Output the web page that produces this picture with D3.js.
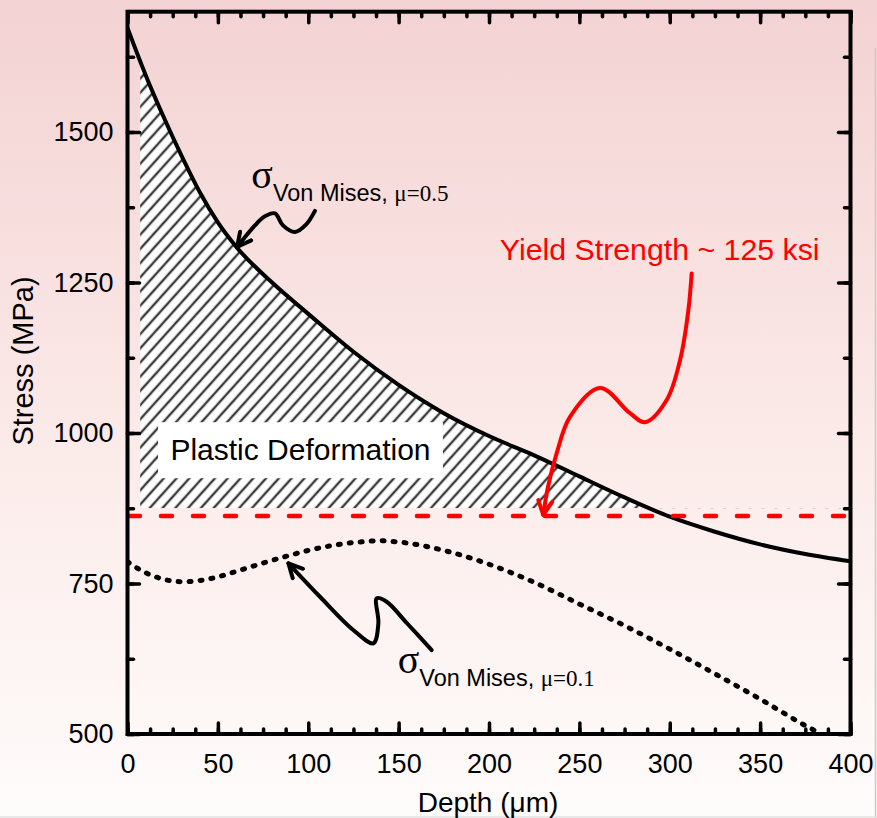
<!DOCTYPE html>
<html><head><meta charset="utf-8">
<script src="https://cdn.jsdelivr.net/npm/d3@7"></script>
<style>html,body{margin:0;padding:0;background:#fff;}svg{display:block;}</style>
</head><body>
<script>
// ---- data ----
const depthTicks = [0,50,100,150,200,250,300,350,400];
const stressTicks = [500,750,1000,1250,1500];
const depthHigh = [0,10,20,30,40,50,60,80,100,125,150,175,200,225,250,275,300,325,350,375,400];
const stressHigh = [1673,1595,1525,1460,1400,1350,1310,1250,1198,1135,1080,1033,995,963,928,893,861,836,815,799,787];
const depthLow = [0,10,20,30,40,50,60,75,90,100,125,140,150,175,200,225,250,275,300,325,350,375,380];
const stressLow = [786,768,757,753,755,761,770,784,797,805,818,821,819,805,782,752,716,680,641,600,558,514,506];
const yieldStress = 862;
const plasticFloor = 875, plasticStart = 7;
// annotation arrows (data units: depth, stress)
const arrowHighD = [103.7, 99, 92.7, 86, 81.6, 76, 70.5, 60.6];
const arrowHighS = [1369, 1347, 1334, 1345, 1365, 1360, 1345, 1309];
const arrowLowD = [168.3, 154.5, 143.4, 137.9, 138.8, 136, 124.9, 106.5, 89];
const arrowLowS = [639.5, 684.4, 719.8, 725.4, 684, 650.7, 672.8, 728, 783.6];
const arrowYieldD = [312.1, 310.3, 305.7, 298.3, 286.3, 278, 261.4, 244.8, 237.5, 232.6, 230];
const arrowYieldS = [1265, 1204, 1121, 1055, 1018, 1033, 1075, 1027, 967, 910, 864];

const W = 877, H = 818;
const svg = d3.select("body").append("svg").attr("width", W).attr("height", H);
const defs = svg.append("defs");
const grad = defs.append("linearGradient").attr("id","bg").attr("x1",0).attr("y1",0).attr("x2",0).attr("y2",1);
[[0,"#f3d2d3"],[0.3,"#f8e0df"],[0.65,"#fcefed"],[1,"#fefcfb"]].forEach(s=>grad.append("stop").attr("offset",s[0]).attr("stop-color",s[1]));
svg.append("rect").attr("width",W).attr("height",H).attr("fill","url(#bg)");
svg.append("line").attr("x1",875.5).attr("x2",875.5).attr("y1",48).attr("y2",H).attr("stroke","#c9cbc0").attr("stroke-width",1.5);
svg.append("line").attr("x1",0).attr("x2",W).attr("y1",817).attr("y2",817).attr("stroke","#e2e2e2").attr("stroke-width",1.5);

const x = d3.scaleLinear().domain([0,400]).range([127.5,850.5]);
const y = d3.scaleLinear().domain([500,1700]).range([734,11.7]);

defs.append("clipPath").attr("id","plot").append("rect")
  .attr("x",x(0)).attr("y",y(1700)).attr("width",x(400)-x(0)).attr("height",y(500)-y(1700));
defs.append("clipPath").attr("id","hatchclip").append("rect")
  .attr("x",x(plasticStart)).attr("y",y(1700)).attr("width",x(400)-x(plasticStart)).attr("height",y(plasticFloor)-y(1700));
const pat = defs.append("pattern").attr("id","hatch").attr("patternUnits","userSpaceOnUse")
  .attr("width",9.5).attr("height",10).attr("patternTransform","rotate(42)");
pat.append("line").attr("x1",4.75).attr("x2",4.75).attr("y1",-1).attr("y2",11).attr("stroke","#3c3c3c").attr("stroke-width",2.4);

const hi = depthHigh.map((d,i)=>[d,stressHigh[i]]);
const lo = depthLow.map((d,i)=>[d,stressLow[i]]);

// hatched plastic region
const area = d3.area().x(d=>x(d[0])).y0(y(plasticFloor)).y1(d=>y(d[1])).curve(d3.curveMonotoneX);
const hg = svg.append("g").attr("clip-path","url(#hatchclip)");
hg.append("path").attr("d",area(hi)).attr("fill","#fff");
hg.append("path").attr("d",area(hi)).attr("fill","url(#hatch)");

// plastic label
const pl = svg.append("g");
pl.append("rect").attr("x",x(16.9)).attr("y",y(1018)).attr("width",x(174.5)-x(16.9)).attr("height",y(925)-y(1018)).attr("fill","#fff");
pl.append("text").attr("x",(x(16.9)+x(174.5))/2).attr("y",y(955)).attr("text-anchor","middle")
  .attr("font-family","Liberation Sans, Arial, sans-serif").attr("font-size",30).attr("fill","#000").text("Plastic Deformation");

const line = d3.line().x(d=>x(d[0])).y(d=>y(d[1])).curve(d3.curveMonotoneX);
const pg = svg.append("g").attr("clip-path","url(#plot)");
pg.append("path").attr("d",line(lo)).attr("fill","none").attr("stroke","#000").attr("stroke-width",5)
  .attr("stroke-dasharray","2 9").attr("stroke-linecap","round");
pg.append("path").attr("d",line(hi)).attr("fill","none").attr("stroke","#000").attr("stroke-width",4);

// yield line
svg.append("line").attr("x1",x(0)+1.5).attr("x2",x(400)).attr("y1",y(yieldStress)).attr("y2",y(yieldStress))
  .attr("stroke","#ff0000").attr("stroke-width",4.5).attr("stroke-dasharray","11 21").attr("stroke-linecap","round");

// arrows
function marker(id,color){
  defs.append("marker").attr("id",id).attr("markerUnits","userSpaceOnUse").attr("viewBox","-16 -10 20 20")
    .attr("markerWidth",20).attr("markerHeight",20).attr("refX",0).attr("refY",0).attr("orient","auto")
    .append("path").attr("d","M-14,-7 L0,0 L-14,7").attr("fill","none").attr("stroke",color).attr("stroke-width",4)
    .attr("stroke-linecap","round").attr("stroke-linejoin","round");
}
marker("ab","#000"); marker("ar","#ff0000");
const aline = d3.line().x(d=>x(d[0])).y(d=>y(d[1])).curve(d3.curveCatmullRom.alpha(0.5));
function arrow(D,S,color,id){
  svg.append("path").attr("d",aline(D.map((d,i)=>[d,S[i]]))).attr("fill","none").attr("stroke",color)
    .attr("stroke-width",4).attr("stroke-linecap","round").attr("marker-end",`url(#${id})`);
}
arrow(arrowHighD,arrowHighS,"#000","ab");
arrow(arrowLowD,arrowLowS,"#000","ab");
arrow(arrowYieldD,arrowYieldS,"#ff0000","ar");

// sigma labels
function sigmaLabel(d,s,mu){
  const t = svg.append("text").attr("x",x(d)).attr("y",y(s)).attr("fill","#000");
  t.append("tspan").attr("font-family","Liberation Serif, Times New Roman, serif").attr("font-size",40).text("σ");
  t.append("tspan").attr("font-family","Liberation Sans, Arial, sans-serif").attr("font-size",23.5).attr("dy",13).text("Von Mises, ");
  t.append("tspan").attr("font-family","Liberation Serif, Times New Roman, serif").attr("font-size",23).text("μ=" + mu);
}
sigmaLabel(68.5,1407,"0.5");
sigmaLabel(149.5,601,"0.1");

svg.append("text").attr("x",x(206)).attr("y",y(1287)).attr("fill","#ff0000")
  .attr("font-family","Liberation Sans, Arial, sans-serif").attr("font-size",30.3).text("Yield Strength ~ 125 ksi");

// axes
const font = "Liberation Sans, Arial, sans-serif";
const minorX = d3.range(0,400.01,12.5), minorY = d3.range(500,1700.01,125);
function styleAxis(g){
  g.select(".domain").remove();
  g.selectAll(".tick line").attr("stroke","#000").attr("stroke-width",3.5).attr("stroke-linecap","round");
  g.selectAll("text").attr("font-family",font).attr("font-size",27).attr("fill","#000");
}
svg.append("g").attr("transform",`translate(0,${y(500)})`).call(d3.axisBottom(x).tickValues(minorX).tickSize(-5).tickFormat("")).call(styleAxis);
svg.append("g").attr("transform",`translate(0,${y(500)})`).call(d3.axisBottom(x).tickValues(depthTicks).tickSize(-11).tickPadding(20).tickFormat(d3.format("d"))).call(styleAxis);
svg.append("g").attr("transform",`translate(0,${y(1700)})`).call(d3.axisTop(x).tickValues(minorX).tickSize(-5).tickFormat("")).call(styleAxis);
svg.append("g").attr("transform",`translate(0,${y(1700)})`).call(d3.axisTop(x).tickValues(depthTicks).tickSize(-11).tickFormat("")).call(styleAxis);
svg.append("g").attr("transform",`translate(${x(0)},0)`).call(d3.axisLeft(y).tickValues(minorY).tickSize(-6).tickFormat("")).call(styleAxis);
svg.append("g").attr("transform",`translate(${x(0)},0)`).call(d3.axisLeft(y).tickValues(stressTicks).tickSize(-12).tickPadding(14).tickFormat(d3.format("d"))).call(styleAxis);
svg.append("g").attr("transform",`translate(${x(400)},0)`).call(d3.axisRight(y).tickValues(minorY).tickSize(-6).tickFormat("")).call(styleAxis);
svg.append("g").attr("transform",`translate(${x(400)},0)`).call(d3.axisRight(y).tickValues(stressTicks).tickSize(-12).tickFormat("")).call(styleAxis);

svg.append("rect").attr("x",x(0)).attr("y",y(1700)).attr("width",x(400)-x(0)).attr("height",y(500)-y(1700))
  .attr("fill","none").attr("stroke","#000").attr("stroke-width",4);

svg.append("text").attr("transform",`translate(33,361) rotate(-90)`).attr("text-anchor","middle")
  .attr("font-family",font).attr("font-size",29).attr("fill","#000").text("Stress (MPa)");
svg.append("text").attr("x",488).attr("y",812).attr("text-anchor","middle")
  .attr("font-family",font).attr("font-size",28).attr("fill","#000").text("Depth (μm)");
</script>
</body></html>
